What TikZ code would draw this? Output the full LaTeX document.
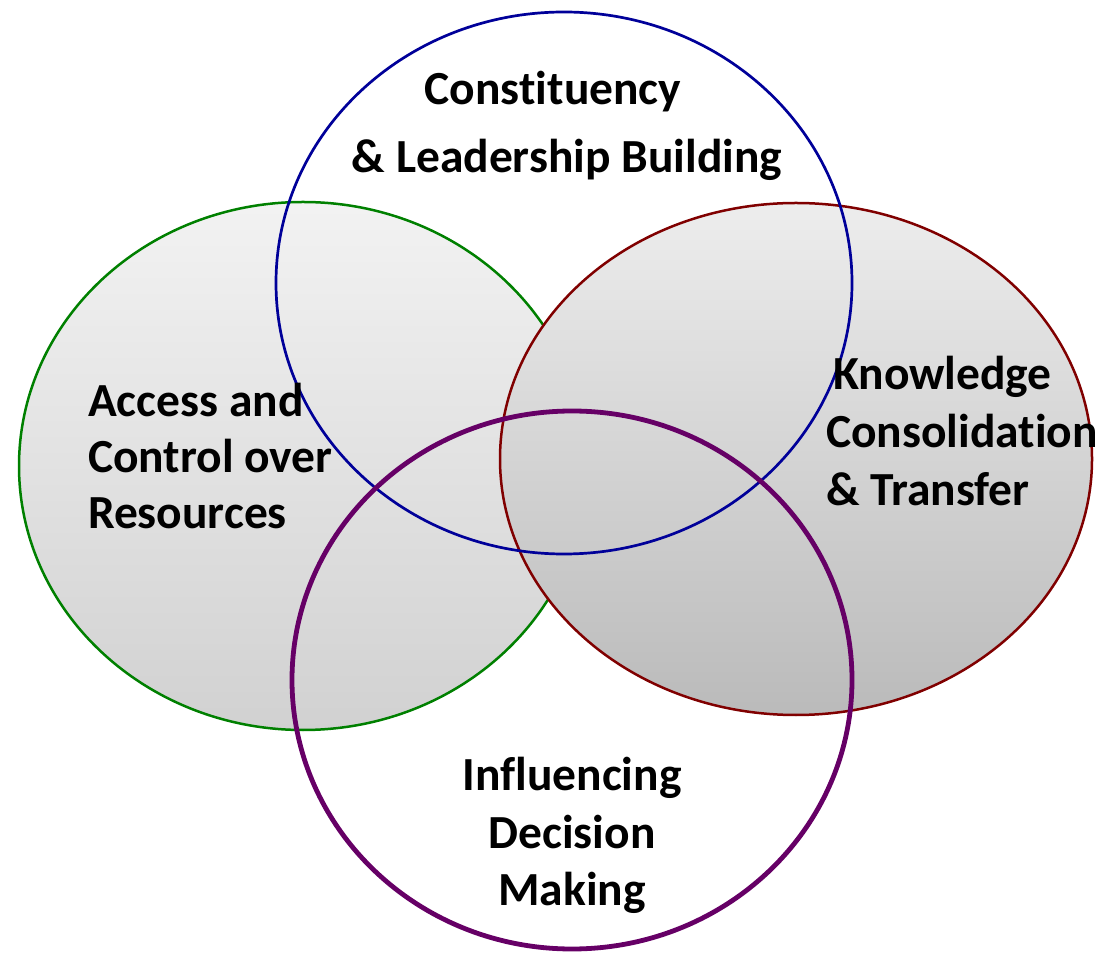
\documentclass[tikz,border=0pt]{standalone}
\usepackage{fontspec}
\setmainfont{Carlito}[Ligatures={NoCommon}]
\usetikzlibrary{shapes.geometric}
\definecolor{cgreen}{HTML}{008000}
\definecolor{cred}{HTML}{800000}
\definecolor{cblue}{HTML}{000099}
\definecolor{cpurple}{HTML}{660066}
\begin{document}
\begin{tikzpicture}[x=1pt,y=1pt,
  ring/.style={ellipse, inner sep=0pt, outer sep=0pt},
  lbl/.style={font=\fontsize{47.5}{57}\selectfont\bfseries, inner sep=0pt, outer sep=0pt}]
\useasboundingbox (0,0) rectangle (1102,956);
% filled ellipses
\node[ring, draw=cgreen, line width=2.5pt, top color=black!5, bottom color=black!18,
  minimum width=568pt, minimum height=528pt] (access) at (303,490) {};
\node[ring, draw=cred, line width=2.5pt, top color=black!7, bottom color=black!27,
  minimum width=592pt, minimum height=512pt] (know) at (796,497) {};
% outline ellipses
\node[ring, draw=cblue, line width=2.7pt, minimum width=576pt, minimum height=542pt] (const) at (564,673) {};
\node[ring, draw=cpurple, line width=4.8pt, minimum width=560pt, minimum height=538pt] (infl) at (572,276) {};
% labels
\node[lbl, anchor=base] (t1) at (553,851) {Constituency};
\node[lbl, anchor=base] (t2) at (567,783) {\& Leadership Building};
\node[lbl, anchor=base west] (a1) at (88,539) {Access and};
\node[lbl, anchor=base west] (a2) at (88,483) {Control over};
\node[lbl, anchor=base west] (a3) at (88,427) {Resources};
\node[lbl, anchor=base west] (k1) at (833,566) {Knowledge};
\node[lbl, anchor=base west] (k2) at (826,508) {Consolidation};
\node[lbl, anchor=base west] (k3) at (826,450) {\& Transfer};
\node[lbl, anchor=base] (i1) at (572,166) {Influencing};
\node[lbl, anchor=base] (i2) at (572,108) {Decision};
\node[lbl, anchor=base] (i3) at (572,51) {Making};
\end{tikzpicture}
\end{document}
